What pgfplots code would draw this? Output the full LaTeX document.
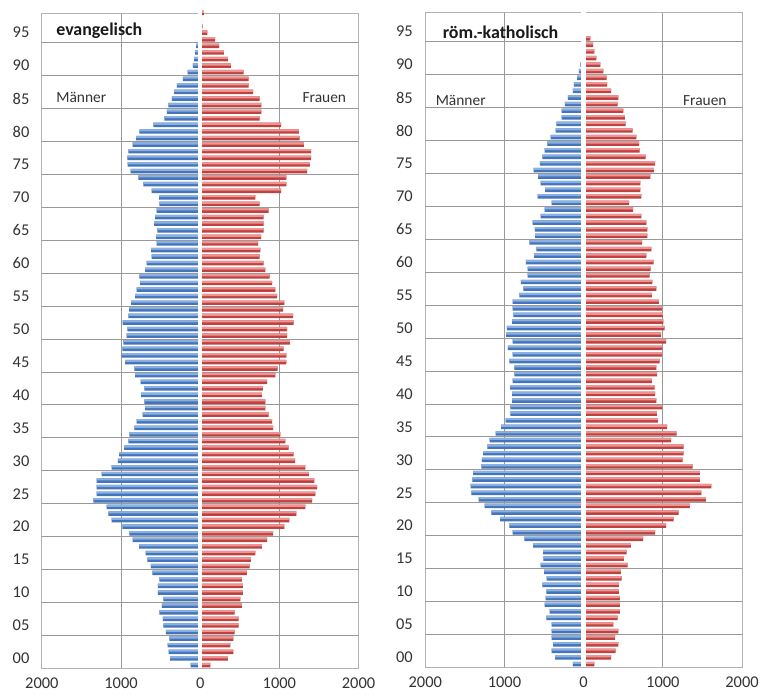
\documentclass[border=0pt]{standalone}
\usepackage{fontspec}
\setmainfont{Carlito}
\usepackage{pgfplots}
\usepackage{pgfplotstable}
\pgfplotsset{compat=1.18}
\definecolor{bluetop}{RGB}{138,176,226}
\definecolor{bluebot}{RGB}{68,116,186}
\definecolor{redtop}{RGB}{238,148,146}
\definecolor{redbot}{RGB}{192,66,64}

% evangelisch, Maenner (negative) and Frauen
\pgfplotstableread{
y x
0 -120
1 -380
2 -400
3 -410
4 -390
5 -435
6 -465
7 -470
8 -515
9 -485
10 -465
11 -535
12 -535
13 -515
14 -603
15 -624
16 -667
17 -688
18 -772
19 -852
20 -895
21 -983
22 -1118
23 -1160
24 -1181
25 -1350
26 -1308
27 -1308
28 -1308
29 -1245
30 -1118
31 -1040
32 -1025
33 -962
34 -907
35 -895
36 -831
37 -802
38 -726
39 -696
40 -705
41 -747
42 -705
43 -751
44 -823
45 -831
46 -949
47 -992
48 -983
49 -970
50 -928
51 -920
52 -979
53 -907
54 -899
55 -873
56 -823
57 -802
58 -759
59 -768
60 -696
61 -675
62 -612
63 -620
64 -549
65 -557
66 -540
67 -582
68 -570
69 -549
70 -515
71 -519
72 -612
73 -717
74 -781
75 -878
76 -916
77 -920
78 -907
79 -852
80 -810
81 -768
82 -591
83 -451
84 -422
85 -401
86 -359
87 -329
88 -295
89 -219
90 -160
91 -93
92 -76
93 -65
94 -50
95 -15
}\evm
\pgfplotstableread{
y x
0 130
1 350
2 420
3 380
4 420
5 435
6 485
7 485
8 435
9 527
10 506
11 540
12 540
13 527
14 590
15 624
16 641
17 696
18 780
19 844
20 920
21 1063
22 1127
23 1215
24 1329
25 1413
26 1456
27 1477
28 1443
29 1371
30 1329
31 1200
32 1181
33 1118
34 1076
35 1013
36 920
37 907
38 865
39 823
40 823
41 780
42 793
43 844
44 949
45 979
46 1089
47 1089
48 1055
49 1131
50 1097
51 1097
52 1181
53 1173
54 1046
55 1063
56 970
57 949
58 907
59 878
60 823
61 802
62 751
63 759
64 730
65 768
66 800
67 802
68 802
69 865
70 751
71 696
72 1021
73 1089
74 1089
75 1350
76 1384
77 1401
78 1401
79 1308
80 1257
81 1245
82 1021
83 751
84 772
85 772
86 751
87 667
88 612
89 612
90 549
91 388
92 350
93 300
94 240
95 190
96 90
97 30
99 45
}\evf
% roem.-katholisch
\pgfplotstableread{
y x
0 -135
1 -362
2 -404
3 -387
4 -404
5 -404
6 -404
7 -471
8 -429
9 -492
10 -479
11 -471
12 -521
13 -467
14 -500
15 -542
16 -508
17 -512
18 -637
19 -750
20 -896
21 -937
22 -1054
23 -1167
24 -1250
25 -1325
26 -1417
27 -1429
28 -1404
29 -1396
30 -1292
31 -1287
32 -1271
33 -1217
34 -1187
35 -1112
36 -1042
37 -987
38 -925
39 -925
40 -904
41 -904
42 -929
43 -896
44 -875
45 -875
46 -937
47 -896
48 -958
49 -896
50 -979
51 -971
52 -904
53 -887
54 -896
55 -896
56 -812
57 -762
58 -792
59 -708
60 -708
61 -729
62 -625
63 -596
64 -687
65 -612
66 -615
67 -646
68 -542
69 -492
70 -404
71 -583
72 -487
73 -542
74 -575
75 -633
76 -554
77 -521
78 -492
79 -458
80 -417
81 -354
82 -346
83 -279
84 -279
85 -237
86 -200
87 -137
88 -125
89 -83
90 -60
91 -40
92 -25
93 -15
94 -10
}\kam
\pgfplotstableread{
y x
0 135
1 346
2 404
3 437
4 396
5 437
6 375
7 429
8 458
9 458
10 458
11 446
12 446
13 479
14 471
15 554
16 508
17 542
18 596
19 750
20 904
21 1042
22 1137
23 1200
24 1342
25 1542
26 1487
27 1612
28 1467
29 1467
30 1375
31 1250
32 1262
33 1262
34 1104
35 1175
36 1054
37 937
38 925
39 992
40 917
41 904
42 896
43 862
44 929
45 917
46 958
47 987
48 992
49 1042
50 979
51 1021
52 1008
53 1000
54 987
55 950
56 862
57 917
58 867
59 833
60 846
61 883
62 792
63 854
64 737
65 804
66 804
67 792
68 729
69 625
70 575
71 729
72 717
73 717
74 842
75 887
76 904
77 783
78 708
79 700
80 667
81 617
82 529
83 521
84 500
85 429
86 437
87 346
88 295
89 290
90 250
91 210
92 160
93 135
94 120
95 85
}\kaf

\pgfplotsset{
  pyr/.style={
    scale only axis, width=318pt, height=658pt,
    xmin=-2000, xmax=2000, ymin=-0.5, ymax=99,
    clip=false,
    axis line style={black!30, line width=0.7pt},
    xtick={-2000,-1000,0,1000,2000},
    xticklabels={2000,1000,0,1000,2000},
    xmajorgrids,
    ytick={1,6,...,96},
    yticklabels={00,05,10,15,20,25,30,35,40,45,50,55,60,65,70,75,80,85,90,95},
    extra y ticks={4.5,9.5,...,94.5},
    extra y tick labels={},
    extra y tick style={ymajorgrids=true, major tick length=0pt},
    major grid style={black!40, line width=0.7pt},
    major tick length=0pt,
    /pgf/number format/assume math mode=true,
    ticklabel style={font=\fontsize{16.5}{18}\selectfont, text=black!80},
    xticklabel style={yshift=-6pt},
    yticklabel style={xshift=-9pt},
  },
  mbar/.style={xbar, bar width=0.68, bar shift=0pt, draw=none, fill=bluebot},
  mbarhi/.style={xbar, bar width=0.32, bar shift=0.18, draw=none, fill=bluetop},
  fbar/.style={xbar, bar width=0.68, bar shift=0pt, draw=none, fill=redbot},
  fbarhi/.style={xbar, bar width=0.32, bar shift=0.18, draw=none, fill=redtop},
}

\begin{document}
\begin{tikzpicture}
\path[fill=white] (0pt,0pt) rectangle (762pt,700pt);
\begin{axis}[pyr, at={(42pt,29pt)}, anchor=south west]
\addplot[mbar] table[x=x,y=y] {\evm};
\addplot[mbarhi] table[x=x,y=y] {\evm};
\addplot[fbar] table[x=x,y=y] {\evf};
\addplot[fbarhi] table[x=x,y=y] {\evf};
\draw[white, line width=4.5pt] (axis cs:0,-0.45) -- (axis cs:0,99.5);
\end{axis}
\begin{axis}[pyr, at={(427pt,30pt)}, anchor=south west]
\addplot[mbar] table[x=x,y=y] {\kam};
\addplot[mbarhi] table[x=x,y=y] {\kam};
\addplot[fbar] table[x=x,y=y] {\kaf};
\addplot[fbarhi] table[x=x,y=y] {\kaf};
\draw[white, line width=4.5pt] (axis cs:0,-0.45) -- (axis cs:0,99.5);
\end{axis}
\begin{scope}[font=\fontsize{15.5}{17}\selectfont, text=black!80]
\node[anchor=west, font=\fontsize{18}{20}\selectfont\bfseries, text=black!90] at (53pt,669pt) {evangelisch};
\node[anchor=west] at (53pt,602pt) {Männer};
\node[anchor=east] at (351pt,602pt) {Frauen};
\node[anchor=west, font=\fontsize{18}{20}\selectfont\bfseries, text=black!90] at (441pt,668pt) {röm.-katholisch};
\node[anchor=west] at (434pt,599pt) {Männer};
\node[anchor=east] at (733pt,599pt) {Frauen};
\end{scope}
\end{tikzpicture}
\end{document}
